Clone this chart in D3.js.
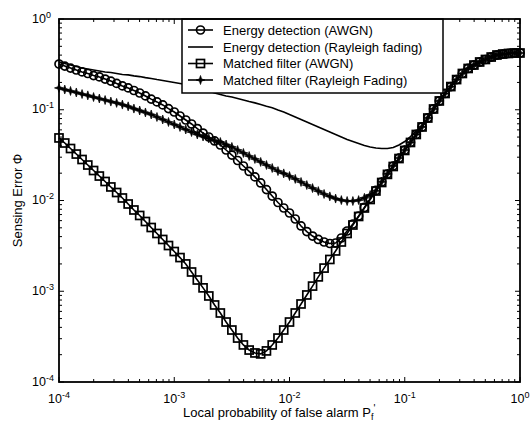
<!DOCTYPE html>
<html>
<head>
<meta charset="utf-8">
<script src="https://cdn.jsdelivr.net/npm/d3@7"></script>
<style>
  body { margin: 0; background: #fff; }
  svg { display: block; font-family: "Liberation Sans", Arial, sans-serif; }
</style>
</head>
<body>
<svg width="531" height="424"></svg>
<script>
// local probability of false alarm (log spaced, 0.05 decade steps)
const pf = [
  1.000e-4, 1.122e-4, 1.259e-4, 1.413e-4, 1.585e-4, 1.778e-4, 1.995e-4, 2.239e-4, 2.512e-4, 2.818e-4,
  3.162e-4, 3.548e-4, 3.981e-4, 4.467e-4, 5.012e-4, 5.623e-4, 6.310e-4, 7.079e-4, 7.943e-4, 8.913e-4,
  1.000e-3, 1.122e-3, 1.259e-3, 1.413e-3, 1.585e-3, 1.778e-3, 1.995e-3, 2.239e-3, 2.512e-3, 2.818e-3,
  3.162e-3, 3.548e-3, 3.981e-3, 4.467e-3, 5.012e-3, 5.623e-3, 6.310e-3, 7.079e-3, 7.943e-3, 8.913e-3,
  1.000e-2, 1.122e-2, 1.259e-2, 1.413e-2, 1.585e-2, 1.778e-2, 1.995e-2, 2.239e-2, 2.512e-2, 2.818e-2,
  3.162e-2, 3.548e-2, 3.981e-2, 4.467e-2, 5.012e-2, 5.623e-2, 6.310e-2, 7.079e-2, 7.943e-2, 8.913e-2,
  1.000e-1, 1.122e-1, 1.259e-1, 1.413e-1, 1.585e-1, 1.778e-1, 1.995e-1, 2.239e-1, 2.512e-1, 2.818e-1,
  3.162e-1, 3.548e-1, 3.981e-1, 4.467e-1, 5.012e-1, 5.623e-1, 6.310e-1, 7.079e-1, 7.943e-1, 8.913e-1,
  1
]

const edAwgn = [
  0.319, 0.303, 0.288, 0.274, 0.261, 0.251, 0.238, 0.230, 0.218, 0.207,
  0.195, 0.183, 0.174, 0.163, 0.153, 0.142, 0.131, 0.122, 0.113, 0.103,
  0.0944, 0.0853, 0.0771, 0.0697, 0.0621, 0.0554, 0.0501, 0.0453, 0.0409, 0.0360,
  0.0317, 0.0276, 0.0240, 0.0209, 0.0182, 0.0156, 0.0132, 0.0112, 0.00951, 0.00827,
  0.00728, 0.00625, 0.00524, 0.00455, 0.00406, 0.00372, 0.00349, 0.00336, 0.00340, 0.00386,
  0.00461, 0.00551, 0.00675, 0.00838, 0.0105, 0.0129, 0.0160, 0.0196, 0.0240, 0.0293,
  0.0359, 0.0437, 0.0535, 0.0647, 0.0812, 0.102, 0.125, 0.151, 0.180, 0.215,
  0.251, 0.285, 0.311, 0.336, 0.358, 0.381, 0.401, 0.411, 0.417, 0.422,
  0.422
]

const edRayleigh = [
  0.336, 0.323, 0.311, 0.300, 0.288, 0.281, 0.274, 0.267, 0.261, 0.257,
  0.251, 0.245, 0.242, 0.236, 0.232, 0.226, 0.221, 0.215, 0.210, 0.205,
  0.200, 0.195, 0.190, 0.183, 0.176, 0.167, 0.161, 0.153, 0.147, 0.142,
  0.138, 0.133, 0.128, 0.123, 0.119, 0.114, 0.109, 0.105, 0.0993, 0.0944,
  0.0887, 0.0832, 0.0781, 0.0733, 0.0688, 0.0646, 0.0606, 0.0568, 0.0534, 0.0501,
  0.0470, 0.0447, 0.0425, 0.0404, 0.0389, 0.0379, 0.0374, 0.0374, 0.0384, 0.0409,
  0.0447, 0.0507, 0.0583, 0.0662, 0.082, 0.103, 0.126, 0.152, 0.181, 0.216,
  0.252, 0.286, 0.312, 0.337, 0.358, 0.381, 0.401, 0.411, 0.417, 0.422,
  0.422
]

const mfAwgn = [
  0.0489, 0.0430, 0.0374, 0.0325, 0.0283, 0.0246, 0.0214, 0.0186, 0.0162, 0.0141,
  0.01225, 0.01066, 0.00915, 0.00786, 0.00684, 0.00587, 0.00504, 0.00433, 0.00372, 0.00319,
  0.00274, 0.00235, 0.00200, 0.00163, 0.00133, 0.00109, 0.000887, 0.000706, 0.000576, 0.000458,
  0.000374, 0.000305, 0.000256, 0.000225, 0.000209, 0.000204, 0.000220, 0.000256, 0.000305, 0.000374,
  0.000458, 0.000576, 0.000724, 0.000910, 0.00114, 0.00144, 0.00180, 0.00224, 0.00278, 0.00349,
  0.00433, 0.00537, 0.00667, 0.00827, 0.01026, 0.01273, 0.01579, 0.0194, 0.0237, 0.0290,
  0.0356, 0.0436, 0.0534, 0.0646, 0.0811, 0.1019, 0.125, 0.151, 0.180, 0.215,
  0.251, 0.285, 0.311, 0.336, 0.358, 0.381, 0.401, 0.411, 0.417, 0.422,
  0.422
]

const mfRayleigh = [
  0.174, 0.167, 0.161, 0.155, 0.149, 0.144, 0.138, 0.133, 0.128, 0.123,
  0.119, 0.114, 0.109, 0.103, 0.0981, 0.0933, 0.0887, 0.0832, 0.0781, 0.0733,
  0.0688, 0.0646, 0.0606, 0.0568, 0.0534, 0.0507, 0.0482, 0.0458, 0.0441, 0.0414,
  0.0389, 0.0360, 0.0334, 0.0309, 0.0287, 0.0266, 0.0246, 0.0228, 0.0211, 0.0199,
  0.0186, 0.0173, 0.0160, 0.0148, 0.0137, 0.0127, 0.0118, 0.0111, 0.0105, 0.0101,
  0.00987, 0.00987, 0.0101, 0.0107, 0.0115, 0.0128, 0.0161, 0.0197, 0.0241, 0.0294,
  0.0360, 0.0438, 0.0536, 0.0648, 0.0813, 0.102, 0.125, 0.151, 0.180, 0.215,
  0.251, 0.285, 0.311, 0.336, 0.358, 0.381, 0.401, 0.411, 0.417, 0.422,
  0.422
]

const legendLabels = [
  "Energy detection (AWGN)",
  "Energy detection (Rayleigh fading)",
  "Matched filter (AWGN)",
  "Matched filter (Rayleigh Fading)"
]
const xExponents = [-4, -3, -2, -1, 0]
const yExponents = [-4, -3, -2, -1, 0]

const svg = d3.select("svg")
const mLeft = 59, mRight = 520, mTop = 19, mBottom = 382

const x = d3.scaleLog().domain([1e-4, 1]).range([mLeft, mRight])
const y = d3.scaleLog().domain([1e-4, 1]).range([mBottom, mTop])

svg.append("rect").attr("width", 531).attr("height", 424).attr("fill", "#fff")

// ticks on all four sides, pointing inward
const minor = []
for (let e = -4; e < 0; e++) for (let m = 2; m <= 9; m++) minor.push(m * Math.pow(10, e))

const ticks = svg.append("g").attr("stroke", "#000").attr("stroke-width", 1)
const tickSet = [
  ...xExponents.map(e => ({v: Math.pow(10, e), len: 5})),
  ...minor.map(v => ({v: v, len: 3}))
]
tickSet.forEach(t => {
  const px = x(t.v), py = y(t.v)
  ticks.append("line").attr("x1", px).attr("x2", px).attr("y1", mBottom).attr("y2", mBottom - t.len)
  ticks.append("line").attr("x1", px).attr("x2", px).attr("y1", mTop).attr("y2", mTop + t.len)
  ticks.append("line").attr("y1", py).attr("y2", py).attr("x1", mLeft).attr("x2", mLeft + t.len)
  ticks.append("line").attr("y1", py).attr("y2", py).attr("x1", mRight).attr("x2", mRight - t.len)
})

// tick labels 10^n
xExponents.forEach(e => {
  const t = svg.append("text")
    .attr("x", x(Math.pow(10, e)))
    .attr("y", 403)
    .attr("text-anchor", "middle")
    .attr("font-size", 12.5)
  t.append("tspan").text("10")
  t.append("tspan").attr("dy", -5).attr("font-size", 9).text(e)
})
yExponents.forEach(e => {
  const t = svg.append("text")
    .attr("x", 32)
    .attr("y", y(Math.pow(10, e)) + 3.5)
    .attr("font-size", 12.5)
  t.append("tspan").text("10")
  t.append("tspan").attr("dy", -5).attr("font-size", 9).text(e)
})

// axis titles
const xt = svg.append("text")
  .attr("x", 183)
  .attr("y", 417)
  .attr("font-size", 13)
xt.append("tspan").text("Local probability of false alarm P")
xt.append("tspan").attr("dy", 3).attr("font-size", 9).text("f")
xt.append("tspan").attr("dy", -8).attr("font-size", 10).text("'")

svg.append("text")
  .attr("transform", "translate(22," + ((mTop + mBottom) / 2) + ") rotate(-90)")
  .attr("text-anchor", "middle")
  .attr("font-size", 13)
  .text("Sensing Error \u03a6")

// curves
const plot = svg.append("g")
const line = d3.line().x((d, i) => x(pf[i])).y(d => y(d))

const star = "M0,-4.5L1.1,-1.1L4.5,0L1.1,1.1L0,4.5L-1.1,1.1L-4.5,0L-1.1,-1.1Z"

function drawMarker(g, cx, cy, kind) {
  if (kind === "circle") {
    g.append("circle").attr("cx", cx).attr("cy", cy).attr("r", 4)
      .attr("fill", "none").attr("stroke", "#000").attr("stroke-width", 1.7)
  } else if (kind === "square") {
    g.append("rect").attr("x", cx - 4).attr("y", cy - 4).attr("width", 8).attr("height", 8)
      .attr("fill", "none").attr("stroke", "#000").attr("stroke-width", 1.7)
  } else if (kind === "star") {
    g.append("path").attr("d", star).attr("transform", "translate(" + cx + "," + cy + ")")
      .attr("fill", "#000").attr("stroke", "#000").attr("stroke-width", 0.7)
  }
}

const series = [
  {data: edAwgn, marker: "circle"},
  {data: edRayleigh, marker: null},
  {data: mfAwgn, marker: "square"},
  {data: mfRayleigh, marker: "star"}
]

series.forEach(s => {
  plot.append("path")
    .attr("d", line(s.data))
    .attr("fill", "none")
    .attr("stroke", "#000")
    .attr("stroke-width", 1.6)
  if (s.marker) {
    const g = plot.append("g")
    s.data.forEach((d, i) => drawMarker(g, x(pf[i]), y(d), s.marker))
  }
})

// legend
const lg = svg.append("g")
lg.append("rect")
  .attr("x", 182).attr("y", mTop).attr("width", 261).attr("height", 74)
  .attr("fill", "#fff").attr("stroke", "#000").attr("stroke-width", 1.5)

const rowY = [30, 47, 63.5, 80]
legendLabels.forEach((label, i) => {
  const ry = rowY[i]
  lg.append("line").attr("x1", 188).attr("x2", 213).attr("y1", ry).attr("y2", ry)
    .attr("stroke", "#000").attr("stroke-width", 1.6)
  if (series[i].marker) drawMarker(lg, 200.5, ry, series[i].marker)
  lg.append("text").attr("x", 223).attr("y", ry + 4.5).attr("font-size", 13).text(label)
})

// frame
svg.append("rect")
  .attr("x", mLeft).attr("y", mTop).attr("width", mRight - mLeft).attr("height", mBottom - mTop)
  .attr("fill", "none").attr("stroke", "#000").attr("stroke-width", 1.8)
</script>
</body>
</html>
